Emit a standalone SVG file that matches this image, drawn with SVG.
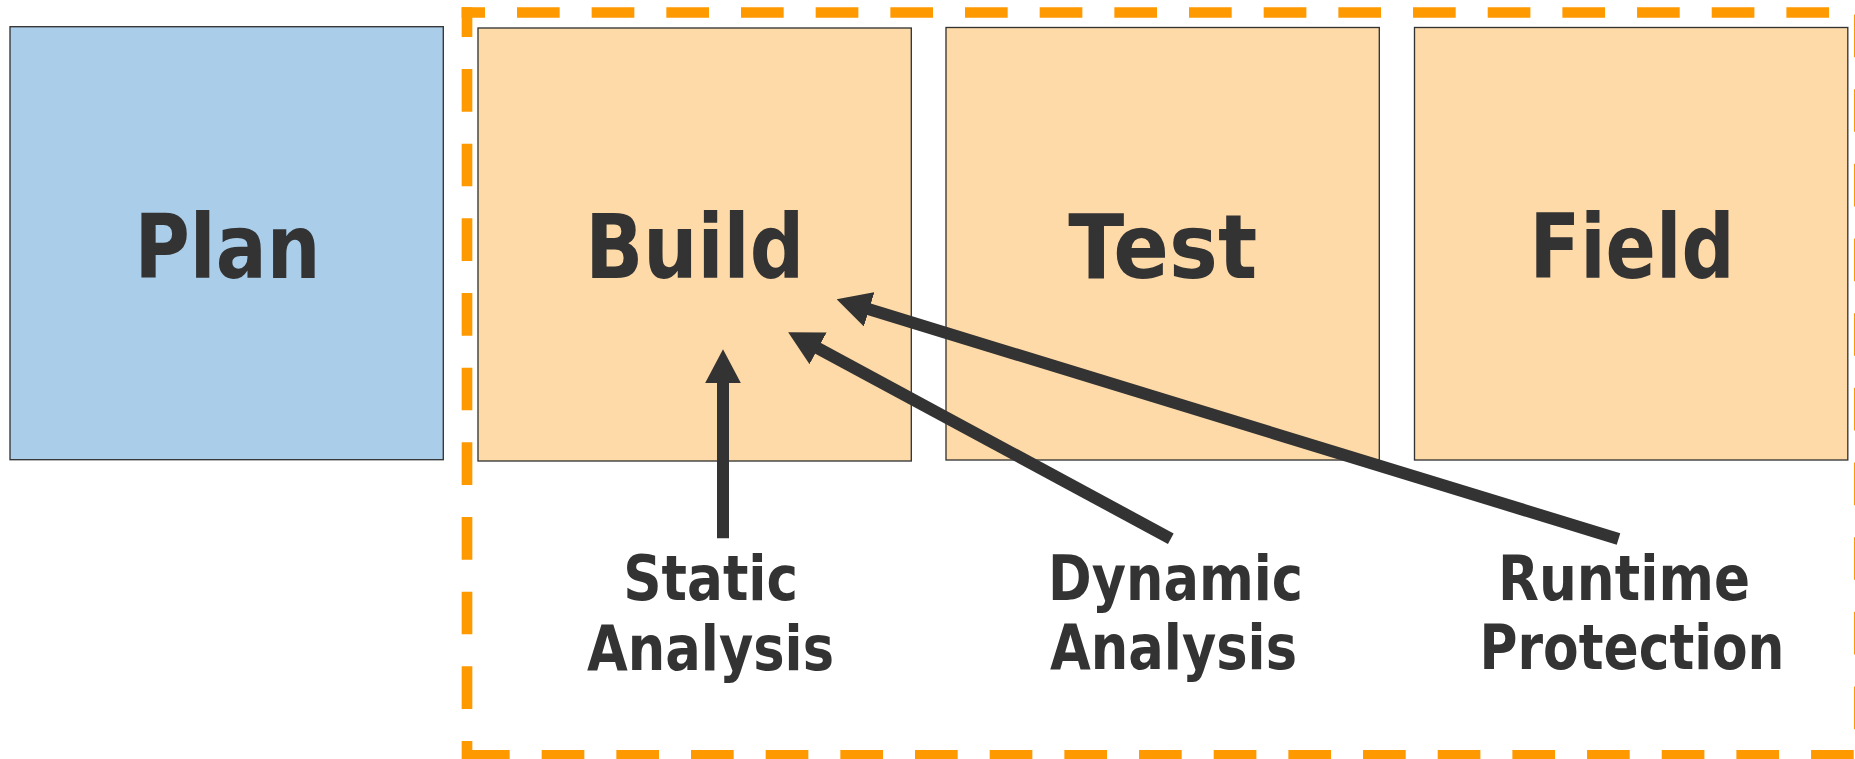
<svg xmlns="http://www.w3.org/2000/svg" width="1855" height="759" viewBox="0 0 1855 759">
  <style>
    .stage { stroke: #333333; stroke-width: 1.33; }
    .plan { fill: #AACDE9; }
    .phase { fill: #FEDAA8; }
    .title { font-family: "DejaVu Sans", Verdana, sans-serif; font-weight: bold; font-size: 89px; fill: #333333; text-anchor: middle; }
    .label { font-family: "DejaVu Sans", Verdana, sans-serif; font-weight: bold; font-size: 62px; fill: #333333; text-anchor: middle; }
    .scope { fill: none; stroke: #FF9900; stroke-width: 10.67; stroke-dasharray: 42.67 32; }
    .link { fill: none; stroke: #333333; stroke-width: 12; }
  </style>
  <defs>
    <marker id="head" viewBox="0 0 34 36" refX="1" refY="18" markerWidth="34" markerHeight="36" markerUnits="userSpaceOnUse" orient="auto">
      <path d="M0,0 L34,18 L0,36 Z" fill="#333333"/>
    </marker>
  </defs>

  <!-- dashed boundary around build / test / field -->
  <g id="scope">
    <line class="scope" x1="467" y1="7.17" x2="467" y2="765" stroke-dashoffset="12.84"/>
    <line class="scope" x1="461.67" y1="12.5" x2="1870" y2="12.5" stroke-dashoffset="19.34"/>
    <line class="scope" x1="1859.33" y1="7.17" x2="1859.33" y2="765" stroke-dashoffset="67.34"/>
    <line class="scope" x1="461.67" y1="755.33" x2="1870" y2="755.33" stroke-dashoffset="69.34"/>
  </g>

  <g id="plan">
    <rect class="stage plan" x="10" y="26.7" width="433.3" height="433"/>
    <text class="title" x="227.5" y="277.7" textLength="186" lengthAdjust="spacingAndGlyphs">Plan</text>
  </g>
  <g id="build">
    <rect class="stage phase" x="478" y="28" width="433.3" height="433"/>
    <text class="title" x="694.7" y="278" textLength="219" lengthAdjust="spacingAndGlyphs">Build</text>
  </g>
  <g id="test">
    <rect class="stage phase" x="946" y="27.5" width="433.3" height="432.5"/>
    <text class="title" x="1162.7" y="277.5" textLength="189" lengthAdjust="spacingAndGlyphs">Test</text>
  </g>
  <g id="field">
    <rect class="stage phase" x="1414.5" y="27.5" width="433.3" height="432.5"/>
    <text class="title" x="1632" y="277.5" textLength="205" lengthAdjust="spacingAndGlyphs">Field</text>
  </g>

  <g id="static-analysis">
    <text class="label" x="710.7" y="600" textLength="175" lengthAdjust="spacingAndGlyphs">Static</text>
    <text class="label" x="710.5" y="669.5" textLength="247" lengthAdjust="spacingAndGlyphs">Analysis</text>
  </g>
  <g id="dynamic-analysis">
    <text class="label" x="1175.5" y="600" textLength="255" lengthAdjust="spacingAndGlyphs">Dynamic</text>
    <text class="label" x="1173.5" y="669" textLength="247" lengthAdjust="spacingAndGlyphs">Analysis</text>
  </g>
  <g id="runtime-protection">
    <text class="label" x="1624" y="600" textLength="252" lengthAdjust="spacingAndGlyphs">Runtime</text>
    <text class="label" x="1632" y="669" textLength="305" lengthAdjust="spacingAndGlyphs">Protection</text>
  </g>

  <!-- connectors: each technique points back at the build stage -->
  <g id="connectors">
    <line class="link" x1="723" y1="538.3" x2="723" y2="382.3" marker-end="url(#head)"/>
    <line class="link" x1="1170.8" y1="538.7" x2="817.2" y2="347.9" marker-end="url(#head)"/>
    <line class="link" x1="1618.5" y1="539" x2="868.2" y2="309" marker-end="url(#head)"/>
  </g>
</svg>
